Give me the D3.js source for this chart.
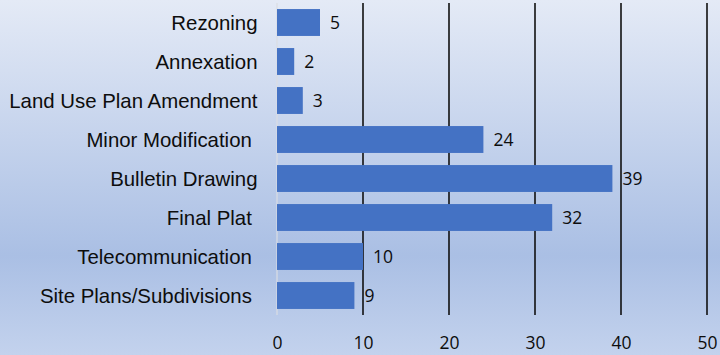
<!DOCTYPE html>
<html>
<head>
<meta charset="utf-8">
<script src="https://cdn.jsdelivr.net/npm/d3@7/dist/d3.min.js"></script>
<style>
  html, body { margin: 0; padding: 0; background: #fff; }
  svg { display: block; }
  .cat { font-family: "Liberation Sans", Arial, sans-serif; font-size: 20.4px; fill: #0d0d0d; white-space: pre; }
  .val { font-family: "Open Sans", "Noto Sans", sans-serif; font-size: 17.5px; fill: #0d0d0d; }
  .tick text { font-family: "Open Sans", "Noto Sans", sans-serif; font-size: 17.5px; fill: #0d0d0d; }
</style>
</head>
<body>
<svg id="chart" width="720" height="355"></svg>
<script>
// Applications received, by type
const categories = [
  "Rezoning",
  "Annexation",
  "Land Use Plan Amendment",
  "Minor Modification ",
  "Bulletin Drawing",
  "Final Plat ",
  "Telecommunication ",
  "Site Plans/Subdivisions "
];
const values = [5, 2, 3, 24, 39, 32, 10, 9];
const tickValues = [0, 10, 20, 30, 40, 50];

const W = 720, H = 355;
const plot = { left: 277, right: 707, top: 3, bottom: 315 };

const svg = d3.select("#chart");

// Background gradient
const defs = svg.append("defs");
const grad = defs.append("linearGradient")
  .attr("id", "bg").attr("x1", 0).attr("y1", 0).attr("x2", 0).attr("y2", 1);
grad.append("stop").attr("offset", "0%").attr("stop-color", "#e4eaf6");
grad.append("stop").attr("offset", "72%").attr("stop-color", "#aabfe4");
grad.append("stop").attr("offset", "100%").attr("stop-color", "#c3d2ed");
svg.append("rect").attr("width", W).attr("height", H).attr("fill", "url(#bg)");

const x = d3.scaleLinear().domain([0, 50]).range([plot.left, plot.right]);
const y = d3.scaleBand()
  .domain(categories)
  .range([plot.top, plot.bottom])
  .paddingInner(0.31)
  .paddingOuter(0.155);

// Vertical gridlines
svg.append("g")
  .selectAll("line")
  .data(tickValues)
  .join("line")
  .attr("x1", d => x(d)).attr("x2", d => x(d))
  .attr("y1", plot.top).attr("y2", plot.bottom)
  .attr("stroke", d => d === 0 ? "#dadde3" : "#111")
  .attr("stroke-width", d => d === 0 ? 1.2 : 1.6);

// Bars
svg.append("g")
  .selectAll("rect")
  .data(values)
  .join("rect")
  .attr("x", x(0))
  .attr("y", (d, i) => y(categories[i]))
  .attr("width", d => x(d) - x(0))
  .attr("height", y.bandwidth())
  .attr("fill", "#4472c4");

// Value labels
svg.append("g")
  .selectAll("text")
  .data(values)
  .join("text")
  .attr("class", "val")
  .attr("x", d => x(d) + 10)
  .attr("y", (d, i) => y(categories[i]) + y.bandwidth() / 2)
  .attr("dy", "0.36em")
  .text(d => d);

// Category labels
svg.append("g")
  .selectAll("text")
  .data(categories)
  .join("text")
  .attr("class", "cat")
  .attr("xml:space", "preserve")
  .attr("x", 257.5)
  .attr("y", d => y(d) + y.bandwidth() / 2)
  .attr("dy", "0.36em")
  .attr("text-anchor", "end")
  .text(d => d);

// Value axis
const axis = d3.axisBottom(x).tickValues(tickValues).tickSize(0).tickPadding(0);
const gx = svg.append("g").attr("transform", "translate(0,349)").call(axis);
gx.select(".domain").remove();
gx.selectAll(".tick text").attr("dy", 0);
</script>
</body>
</html>
